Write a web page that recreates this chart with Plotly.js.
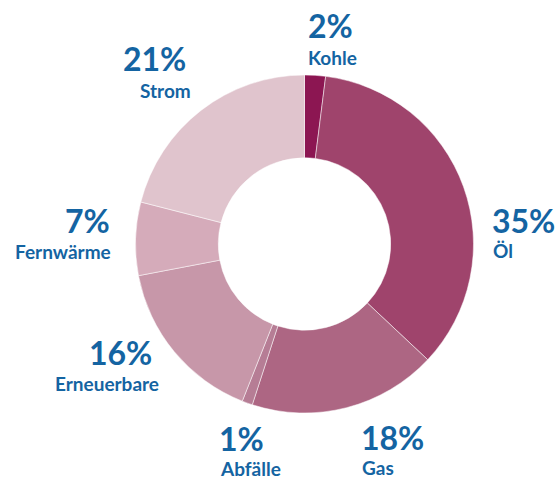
<!DOCTYPE html>
<html>
<head>
<meta charset="utf-8">
<script src="https://cdn.plot.ly/plotly-3.0.1.min.js"></script>
<style>html,body{margin:0;padding:0;background:#fff;}#chart{width:560px;height:479px;}</style>
</head>
<body>
<div id="chart"></div>
<script>
var categories = ["Kohle", "Öl", "Gas", "Abfälle", "Erneuerbare", "Fernwärme", "Strom"];
var values = [2, 35, 18, 1, 16, 7, 21];
var pctLabels = ["2%", "35%", "18%", "1%", "16%", "7%", "21%"];

var colors = ["#8c1652", "#9f446c", "#ad6683", "#b67d95", "#c797a9", "#d5abba", "#e0c4cd"];
var textColor = "#1464a2";

// label placement (pixels): [anchor, pctX, pctY, nameX, nameY]
var labelPos = [
  ["left", 306, 25, 306, 57],
  ["left", 490, 220, 491, 250],
  ["left", 359, 437, 360, 467],
  ["left", 217, 438, 218, 468],
  ["right", 154, 352, 161, 383],
  ["right", 112, 220, 113, 251],
  ["right", 188, 58, 193, 90]
];

var W = 560, H = 479;
function px(x){ return x / W; }
function py(y){ return 1 - y / H; }

var cx = 304.5, cy = 244, R = 169;

var annotations = [];
for (var i = 0; i < categories.length; i++) {
  var p = labelPos[i];
  annotations.push({
    text: pctLabels[i], xref: "paper", yref: "paper",
    x: px(p[1]), y: py(p[2]), xanchor: p[0], yanchor: "middle",
    showarrow: false,
    font: {family: "Lato, 'Open Sans', sans-serif", size: 32, color: textColor, weight: 700}
  });
  annotations.push({
    text: categories[i], xref: "paper", yref: "paper",
    x: px(p[3]), y: py(p[4]), xanchor: p[0], yanchor: "middle",
    showarrow: false,
    font: {family: "Lato, 'Open Sans', sans-serif", size: 19, color: textColor, weight: 700}
  });
}

var data = [{
  type: "pie",
  labels: categories,
  values: values,
  hole: 0.51,
  sort: false,
  direction: "clockwise",
  rotation: 0,
  textinfo: "none",
  hoverinfo: "label+percent",
  marker: {colors: colors, line: {color: "#ffffff", width: 0.5}},
  domain: {x: [px(cx - R), px(cx + R)], y: [py(cy + R), py(cy - R)]},
  showlegend: false
}];

var layout = {
  width: W, height: H,
  margin: {l: 0, r: 0, t: 0, b: 0},
  paper_bgcolor: "#ffffff",
  plot_bgcolor: "#ffffff",
  showlegend: false,
  annotations: annotations
};

Plotly.newPlot("chart", data, layout, {displayModeBar: false, staticPlot: true});
</script>
</body>
</html>
